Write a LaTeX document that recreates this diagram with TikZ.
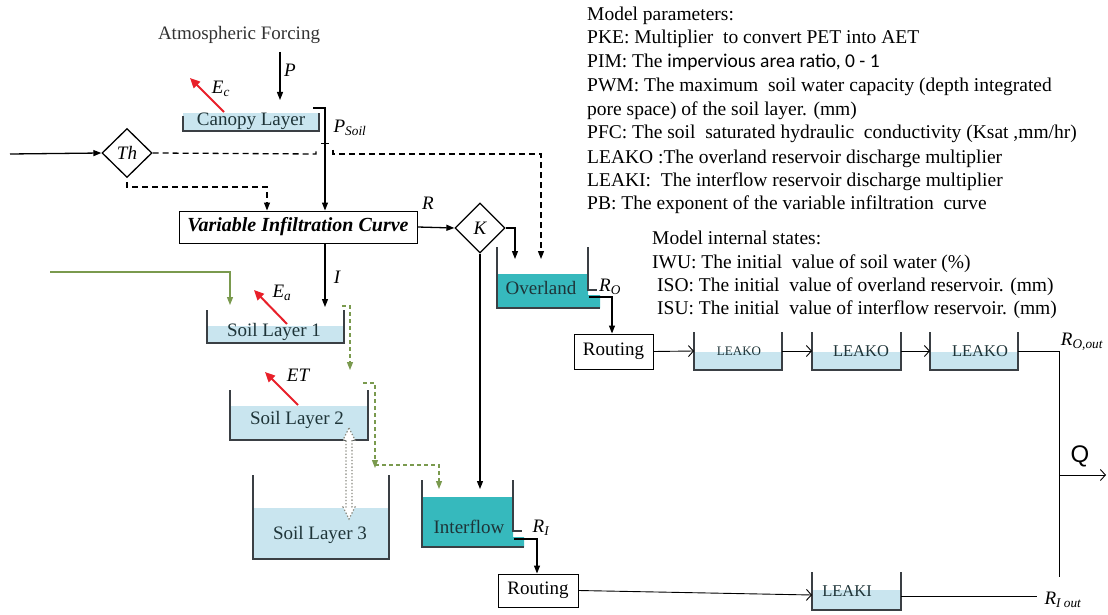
\documentclass[tikz,border=0pt]{standalone}
\usepackage{fontspec}
\setmainfont{Liberation Serif}
\newfontfamily\calibf{Carlito}
\newfontfamily\arialf{Liberation Sans}
\usetikzlibrary{arrows.meta,shapes.geometric}
\definecolor{lblue}{HTML}{C9E5EF}
\definecolor{tealf}{HTML}{36B9BD}
\definecolor{wallc}{HTML}{3A3F44}
\definecolor{redar}{HTML}{E8202A}
\definecolor{olivec}{HTML}{7A9A4E}
\definecolor{txtc}{HTML}{1E3438}
\definecolor{dotc}{HTML}{8A8A80}
\begin{document}
\begin{tikzpicture}[x=1pt,y=-1pt,
  wallline/.style={draw=wallc,line width=1.8pt},
  arr/.style={line width=1.3pt,-{Triangle[length=8pt,width=6pt]}},
  darr/.style={line width=1.3pt,dash pattern=on 6pt off 4pt,-{Triangle[length=8pt,width=6pt]}},
  dline/.style={line width=1.3pt,dash pattern=on 6pt off 4pt},
  garr/.style={olivec,line width=1.3pt,-{Triangle[length=8pt,width=6pt]}},
  gdarr/.style={olivec,line width=1.3pt,dash pattern=on 4pt off 3pt,-{Triangle[length=8pt,width=6pt]}},
  redarrow/.style={redar,line width=2pt,-{Triangle[length=10pt,width=9pt]}},
  oarr/.style={line width=0.9pt,-{Straight Barb[length=5pt,width=11pt]}},
  plain/.style={line width=0.9pt},
  lbl/.style={font=\fontsize{19}{22}\selectfont,text=txtc,inner sep=0},
  mlbl/.style={font=\fontsize{19}{22}\selectfont\itshape,inner sep=0},
  ptxt/.style={font=\fontsize{19.5}{23}\selectfont,anchor=base west,inner sep=0},
  boxnode/.style={draw,line width=1pt,inner sep=0,font=\fontsize{19}{22}\selectfont},
  decision/.style={diamond,draw,line width=1.3pt,inner sep=0,minimum width=50,minimum height=49,font=\fontsize{19}{22}\selectfont\itshape}
]
\fill[white] (0,0) rectangle (1108,615);
\useasboundingbox (0,0) rectangle (1108,615);

% ---------- text blocks ----------
\node[ptxt] (p1) at (587,21) {Model parameters:};
\node[ptxt] (p2) at (587,44) {PKE: Multiplier\ \ to convert PET into AET};
\node[ptxt] (p3) at (587,68) {PIM: The {\calibf impervious area ratio, 0 - 1}};
\node[ptxt] (p4) at (587,92) {PWM: The maximum\ \ soil water capacity (depth integrated};
\node[ptxt] (p5) at (587,116) {pore space) of the soil layer. (mm)};
\node[ptxt] (p6) at (587,139) {PFC: The soil\ \ saturated hydraulic\ \ conductivity (Ksat ,mm/hr)};
\node[ptxt] (p7) at (587,163) {LEAKO :The overland reservoir discharge multiplier};
\node[ptxt] (p8) at (587,186) {LEAKI:\ \ The interflow reservoir discharge multiplier};
\node[ptxt] (p9) at (587,209) {PB: The exponent of the variable infiltration\ \ curve};
\node[ptxt] (s1) at (652,244) {Model internal states:};
\node[ptxt] (s2) at (652,268) {IWU: The initial\ \ value of soil water (\%)};
\node[ptxt] (s3) at (657,291) {ISO: The initial\ \ value of overland reservoir. (mm)};
\node[ptxt] (s4) at (657,314) {ISU: The initial\ \ value of interflow reservoir. (mm)};

% ---------- atmosphere & canopy ----------
\node[inner sep=0,font=\fontsize{19}{22}\selectfont,text=black!80] (af) at (239,35) {Atmospheric Forcing};
\coordinate (ptop) at (280,52);
\coordinate (pbot) at (280,100);
\draw[arr] (ptop) -- (pbot);
\node[mlbl] (plab) at (290,70) {P};

\fill[lblue] (183,113) rectangle (319,131);
\draw[wallline] (183,116) -- (183,131) -- (319,131) -- (319,113);
\node[lbl] (canopy) at (251,121) {Canopy Layer};
\coordinate (ectail) at (224,112);
\coordinate (echead) at (190,78);
\draw[redarrow] (ectail) -- (echead);
\node[mlbl] (eclab) at (221,89) {E\textsubscript{c}};

% ---------- Th ----------
\node[decision] (th) at (127,153) {Th};
\coordinate (inL) at (10,154);
\draw[arr] (inL) -- (th.west);

% ---------- VIC ----------
\node[boxnode,minimum width=238,minimum height=32,font=\fontsize{20}{23}\selectfont\bfseries\itshape] (vic) at (298,227) {Variable Infiltration Curve};
\coordinate (brk) at (313,108);
\coordinate (brc) at (325,108);
\draw[arr] (brk) -- (brc) -- (vic.north -| brc);
\node[mlbl] (psoil) at (350,128) {P\textsubscript{Soil}};
\draw[plain] (321,143) -- (329,143);

% dashed lines from Th
\coordinate (hopL) at (316,154);
\coordinate (hopR) at (333,154);
\coordinate (dcorner) at (541,154);
\coordinate (dend) at (541,259);
\draw[dline] (th.east) -- (hopL) -- ++(0,-4);
\draw[darr] (333,150) -- (hopR) -- (dcorner) -- (dend);
\coordinate (tb1) at (127,182);
\coordinate (tb2) at (267,187);
\draw[darr] (tb1) -- (127,187) -- (tb2) -- (vic.north -| tb2);

% ---------- K ----------
\node[decision,minimum width=50,minimum height=50] (k) at (480,228) {K};
\draw[arr] (vic.east) -- (k.west);
\node[mlbl] (rlab) at (428,203) {R};
\coordinate (kturn) at (515,228);
\coordinate (kov) at (515,259);
\draw[arr] (k.east) -- (kturn) -- (kov);
\coordinate (kint) at (480,489);
\draw[arr] (k.south) -- (kint);

% ---------- Overland ----------
\fill[tealf] (497,274) -- (588,274) -- (588,295) -- (600,295) -- (600,308) -- (497,308) -- cycle;
\draw[wallline] (497,247) -- (497,308) -- (600,308);
\draw[wallline] (588,247) -- (588,290) -- (597,290);
\node[lbl] (overland) at (541,288) {Overland};
\node[mlbl] (rolab) at (610,287) {R\textsubscript{O}};
\coordinate (oout) at (589,297);
\coordinate (ooutc) at (612,297);

% ---------- Routing (overland) & LEAKO ----------
\node[boxnode,minimum width=79,minimum height=35] (rout1) at (613.5,351.5) {Routing};
\draw[arr] (oout) -- (ooutc) -- (rout1.north -| ooutc);

\fill[lblue] (694,352) rectangle (782,370);
\draw[wallline,line width=1.5pt] (694,332) -- (694,370) -- (782,370) -- (782,332);
\node[lbl,font=\fontsize{13}{15}\selectfont] (lo1) at (739,351) {LEAKO};
\fill[lblue] (812,352) rectangle (901,370);
\draw[wallline,line width=1.5pt] (812,332) -- (812,370) -- (901,370) -- (901,332);
\node[lbl,font=\fontsize{16.5}{19}\selectfont] (lo2) at (861,351) {LEAKO};
\fill[lblue] (930,352) rectangle (1018,370);
\draw[wallline,line width=1.5pt] (930,332) -- (930,370) -- (1018,370) -- (1018,332);
\node[lbl,font=\fontsize{16.5}{19}\selectfont] (lo3) at (980,351) {LEAKO};

\coordinate (lo1w) at (694,351);
\coordinate (lo1e) at (782,351);
\coordinate (lo2w) at (812,351);
\coordinate (lo2e) at (901,351);
\coordinate (lo3w) at (930,351);
\coordinate (lo3e) at (1018,351);
\draw[oarr] (rout1.east) -- (lo1w);
\draw[oarr] (lo1e) -- (lo2w);
\draw[oarr] (lo2e) -- (lo3w);
\coordinate (qtop) at (1059,351);
\coordinate (qbot) at (1059,577);
\draw[plain] (lo3e) -- (qtop) -- (qbot);
\node[mlbl] (roout) at (1082,342) {R\textsubscript{O,out}};
\coordinate (qmid) at (1059,475);
\coordinate (qend) at (1106,475);
\draw[oarr] (qmid) -- (qend);
\node[inner sep=0,font=\arialf\fontsize{24}{26}\selectfont] (qlab) at (1080,456) {Q};

% ---------- soil layers ----------
\coordinate (ingreen) at (50,272);
\coordinate (gturn) at (230,272);
\coordinate (gend) at (230,305);
\draw[garr] (ingreen) -- (gturn) -- (gend);
\coordinate (itop) at (325,243);
\coordinate (ibot) at (325,307);
\draw[arr] (vic.south -| itop) -- (ibot);
\node[mlbl] (ilab) at (337,277) {I};

\fill[lblue] (207,326) rectangle (344,343);
\draw[wallline] (207,310) -- (207,343) -- (344,343) -- (344,310);
\node[lbl] (sl1) at (274,332) {Soil Layer 1};
\coordinate (eatail) at (287,324);
\coordinate (eahead) at (254,290);
\draw[redarrow] (eatail) -- (eahead);
\node[mlbl] (ealab) at (282,293) {E\textsubscript{a}};

\coordinate (g1a) at (342,306);
\coordinate (g1b) at (350,306);
\coordinate (g1c) at (350,370);
\draw[gdarr] (g1a) -- (g1b) -- (g1c);

\fill[lblue] (230,406) rectangle (368,440);
\draw[wallline] (230,390) -- (230,440) -- (368,440) -- (368,390);
\node[lbl] (sl2) at (297,420) {Soil Layer 2};
\coordinate (ettail) at (298,405);
\coordinate (ethead) at (265,372);
\draw[redarrow] (ettail) -- (ethead);
\node[mlbl] (etlab) at (298,375) {ET};

\coordinate (g2a) at (363,383);
\coordinate (g2b) at (375,383);
\coordinate (g2c) at (375,468);
\draw[gdarr] (g2a) -- (g2b) -- (g2c);
\coordinate (g3a) at (375,465);
\coordinate (g3b) at (439,465);
\coordinate (g3c) at (439,489);
\draw[gdarr] (g3a) -- (g3b) -- (g3c);

\fill[lblue] (253,508) rectangle (389,559);
\draw[wallline] (253,475) -- (253,559) -- (389,559) -- (389,475);
\node[lbl] (sl3) at (320,535) {Soil Layer 3};

\filldraw[fill=white,draw=dotc,line width=1.3pt,dotted] (349,428) -- (355,440) -- (352,440) -- (352,507) -- (355,507) -- (349,519) -- (343,507) -- (346,507) -- (346,440) -- (343,440) -- cycle;

% ---------- Interflow ----------
\fill[tealf] (422,497) -- (513,497) -- (513,537) -- (524,537) -- (524,547) -- (422,547) -- cycle;
\draw[wallline] (422,480) -- (422,547) -- (524,547);
\draw[wallline] (513,480) -- (513,531) -- (522,531);
\node[lbl] (interflow) at (469,527) {Interflow};
\node[mlbl] (rilab) at (541,528) {R\textsubscript{I}};
\coordinate (iout) at (514,539);
\coordinate (ioutc) at (537,539);
\node[boxnode,minimum width=80,minimum height=33] (rout2) at (538,590.5) {Routing};
\draw[arr] (iout) -- (ioutc) -- (rout2.north -| ioutc);

\fill[lblue] (812,590) rectangle (901,610);
\draw[wallline,line width=1.5pt] (812,572) -- (812,610) -- (901,610) -- (901,572);
\node[lbl,font=\fontsize{16.5}{19}\selectfont] (lki) at (847,591) {LEAKI};
\coordinate (lkw) at (812,595);
\coordinate (lke) at (901,596);
\coordinate (riend) at (1037,596);
\draw[oarr] (rout2.east) -- (lkw);
\draw[plain] (lke) -- (riend);
\node[mlbl] (riout) at (1063,600) {R\textsubscript{I out}};
\end{tikzpicture}
\end{document}
